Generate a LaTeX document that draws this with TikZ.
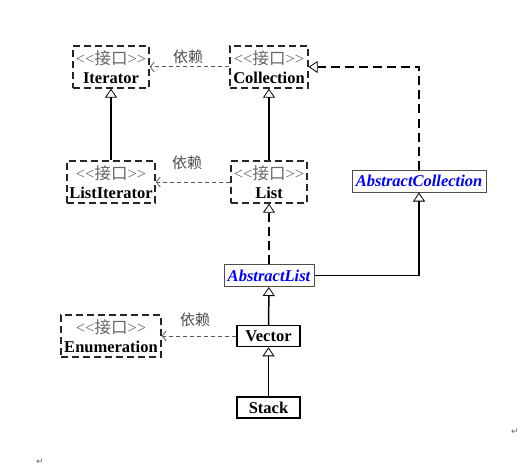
\documentclass[tikz,border=0pt]{standalone}
\usepackage{fontspec}
\setmainfont{Liberation Serif}
\newfontfamily\cjk{Noto Sans CJK SC}
\newfontfamily\symfont{DejaVu Sans}
\usetikzlibrary{arrows.meta,positioning}
\newcommand{\stereo}{{\mdseries\color{black!60}<{}<{\cjk 接口}>{}>}}

\begin{document}
\begin{tikzpicture}[
  x=1pt, y=-1pt,
  font=\fontsize{16.5}{19}\selectfont,
  iface/.style={draw=black!85, line width=1.4pt, dash pattern=on 7pt off 4pt,
    align=center, inner sep=1pt, minimum height=42pt, font=\fontsize{16.5}{19}\selectfont\bfseries},
  cls/.style={draw, line width=1.5pt, inner sep=1pt, minimum width=63pt,
    minimum height=21pt, font=\fontsize{16.5}{19}\selectfont\bfseries},
  abs/.style={draw=black!70, line width=1pt, inner sep=1pt, minimum height=22pt,
    text=blue, font=\fontsize{16.5}{19}\selectfont\bfseries\itshape},
  dep/.style={-{Straight Barb[length=4pt,width=10pt,line width=0.8pt]}, black!65,
    line width=1pt, dash pattern=on 4pt off 3pt},
  impl/.style={-{Triangle[open,length=9pt,width=12pt,line width=0.8pt]}, line width=1.3pt,
    dash pattern=on 9pt off 5pt},
  inh/.style={-{Triangle[open,length=9pt,width=12pt,line width=0.8pt]}, line width=1.5pt},
  lbl/.style={text=black!70, font=\fontsize{15}{17}\selectfont\cjk},
  ret/.style={text=black!60, font=\fontsize{9}{10}\selectfont\symfont}
]
\useasboundingbox (0,0) rectangle (524,468);
\node[iface, minimum width=76pt] (it) at (111,67) {\stereo\\Iterator};
\node[iface, minimum width=78pt] (coll) at (269,67) {\stereo\\Collection};
\node[iface, minimum width=88pt] (lit) at (111,182) {\stereo\\ListIterator};
\node[iface, minimum width=76pt] (list) at (269,182) {\stereo\\List};
\node[iface, minimum width=100pt] (enum) at (111,336) {\stereo\\Enumeration};
\node[abs, minimum width=134pt] (acoll) at (419,181) {AbstractCollection};
\node[abs, minimum width=90pt] (alist) at (269,275.5) {AbstractList};
\node[cls] (vec) at (268.5,336) {Vector};
\node[cls] (stack) at (268.5,407.5) {Stack};
\node[lbl] (d1) at (188,57) {依赖};
\node[lbl] (d2) at (187,163) {依赖};
\node[lbl] (d3) at (195,320) {依赖};
\node[ret] (r1) at (515,432) {↵};
\node[ret] (r2) at (40,462) {↵};
\draw[dep] (coll) -- (it);
\draw[dep] (list) -- (lit);
\draw[dep] (vec) -- (enum);
\draw[inh] (lit) -- (it);
\draw[inh] (list) -- (coll);
\draw[impl] (alist) -- (list);
\draw[impl] (acoll.north) |- (coll.east);
\draw[inh] (alist.east) -| (acoll.south);
\draw[inh] (vec) -- (alist);
\draw[inh] (stack) -- (vec);
\end{tikzpicture}
\end{document}
